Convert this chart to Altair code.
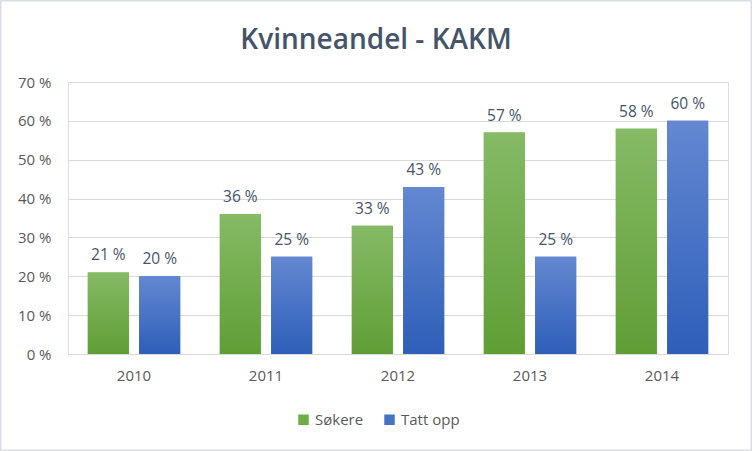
import altair as alt
import pandas as pd

years = ["2010", "2011", "2012", "2013", "2014"]
sokere = [21, 36, 33, 57, 58]
tatt_opp = [20, 25, 43, 25, 60]
series = ["Søkere", "Tatt opp"]
colors = ["#70ad47", "#4472c4"]
title_text = "Kvinneandel - KAKM"

rows = []
for i, y in enumerate(years):
    rows.append({"year": y, "series": series[0], "value": sokere[i]})
    rows.append({"year": y, "series": series[1], "value": tatt_opp[i]})
df = pd.DataFrame(rows)

TXT = "#44546a"
FONT = "Open Sans"

x_enc = alt.X("year:N", sort=years, title=None,
              scale=alt.Scale(paddingInner=0.3, paddingOuter=0.15),
              axis=alt.Axis(labelAngle=0, ticks=False, domain=False, labelPadding=14,
                            labelFontSize=15, labelColor="#595959", labelFont=FONT))
xo_enc = alt.XOffset("series:N", sort=series,
                     scale=alt.Scale(domain=series, paddingInner=0.2, paddingOuter=0))
y_enc = alt.Y("value:Q", title=None,
              scale=alt.Scale(domain=[0, 70], nice=False),
              axis=alt.Axis(values=[0, 10, 20, 30, 40, 50, 60, 70], labelExpr="datum.value + ' %'",
                            ticks=False, domain=False, gridColor="#d9d9d9", labelPadding=17,
                            labelFontSize=15, labelColor="#595959", labelFont=FONT))

base = alt.Chart(df)

legend_bars = base.mark_bar().encode(
    x=x_enc, xOffset=xo_enc, y=y_enc,
    color=alt.Color("series:N", sort=series,
                    scale=alt.Scale(domain=series, range=colors),
                    legend=alt.Legend(title=None, orient="none", direction="horizontal",
                                      legendX=228, legendY=330, symbolType="square",
                                      symbolSize=110, symbolStrokeWidth=0, labelFontSize=15,
                                      labelColor="#595959", labelFont=FONT, columnPadding=18,
                                      labelOffset=4)),
)

def grad(top, bottom):
    return alt.Gradient(gradient="linear", x1=0, x2=0, y1=0, y2=1,
                        stops=[alt.GradientStop(offset=0, color=top),
                               alt.GradientStop(offset=1, color=bottom)])

green = base.transform_filter(alt.datum.series == series[0]).mark_bar(
    fill=grad("#86ba66", "#5f9e35")).encode(x=x_enc, xOffset=xo_enc, y=y_enc)
blue = base.transform_filter(alt.datum.series == series[1]).mark_bar(
    fill=grad("#6488d1", "#2e5eb9")).encode(x=x_enc, xOffset=xo_enc, y=y_enc)

labels = base.transform_calculate(lbl="datum.value + ' %'").mark_text(
    baseline="bottom", dy=-9, fontSize=15.5, color="#44546a", font=FONT
).encode(x=x_enc, xOffset=xo_enc, y=y_enc, text="lbl:N")

one = pd.DataFrame({"t": [title_text]})

title = alt.Chart(one).mark_text(
    fontSize=28, font=FONT, fontWeight=600, color=TXT, align="center", baseline="middle"
).encode(x=alt.value(308), y=alt.value(-41), text="t:N")

border = alt.Chart(one).mark_rect(
    fill=None, stroke="#d9dde3", strokeWidth=3
).encode(x=alt.value(-68), x2=alt.value(684), y=alt.value(-82), y2=alt.value(369))

chart = alt.layer(legend_bars, green, blue, labels, title, border).properties(
    width=660, height=272,
    padding={"left": 68, "top": 82, "right": 24, "bottom": 97},
    autosize=alt.AutoSizeParams(type="none"),
).configure_view(stroke=None).configure(background="white")

chart.save("out.html", embed_options={"renderer": "svg", "actions": False})
